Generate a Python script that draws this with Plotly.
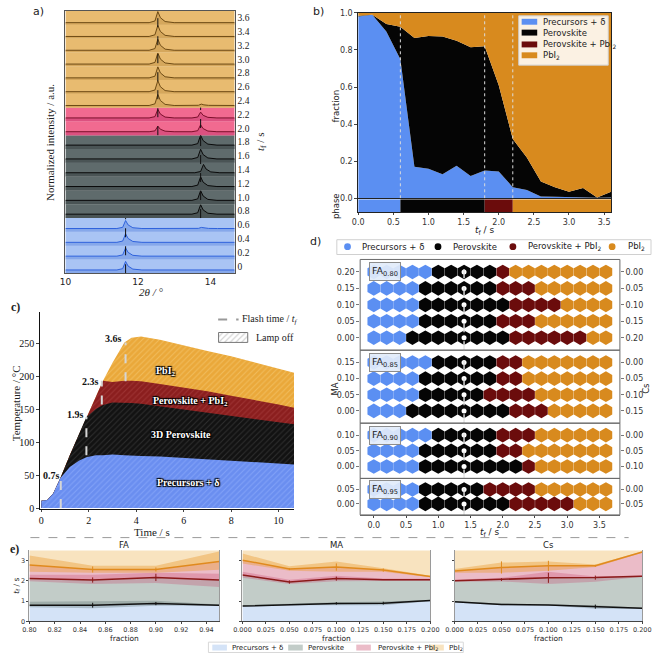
import plotly.graph_objects as go

W, H = 661, 658
SANS = "DejaVu Sans"
SERIF = "Liberation Serif"

# ======================= DATA =======================
phase_names = ["Precursors + δ", "Perovskite", "Perovskite + PbI<sub>2</sub>", "PbI<sub>2</sub>"]
phase_colors = ["#5b8ff2", "#050505", "#6b0c0c", "#d88a1e"]

tf_grid = [0.0, 0.2, 0.4, 0.6, 0.8, 1.0, 1.2, 1.4, 1.6, 1.8, 2.0, 2.2, 2.4, 2.6, 2.8, 3.0, 3.2, 3.4, 3.6]

# ---- panel a (XRD strips, bottom to top) ----
a_tf_labels = ["0", "0.2", "0.4", "0.6", "0.8", "1.0", "1.2", "1.4", "1.6", "1.8",
               "2.0", "2.2", "2.4", "2.6", "2.8", "3.0", "3.2", "3.4", "3.6"]
a_phase = [0, 0, 0, 0, 1, 1, 1, 1, 1, 1, 2, 2, 3, 3, 3, 3, 3, 3, 3]
a_delta_pos = 11.66
a_pbi2_pos = 12.55
a_delta_h = [0.62, 0.60, 0.62, 0.58, 0, 0, 0, 0, 0, 0, 0, 0, 0, 0, 0, 0, 0, 0, 0]
a_pbi2_h = [0, 0, 0, 0, 0, 0, 0, 0, 0, 0, 0.40, 0.62, 0.80, 0.80, 0.80, 0.80, 0.80, 0.80, 0.80]
a_perov_pos = [13.73, 13.73, 13.73, 13.75, 13.73, 13.73, 13.73, 13.81, 13.73, 13.73,
               13.73, 13.73, 13.75, 13.75, 13.75, 13.75, 13.75, 13.75, 13.75]
a_perov_h = [0, 0, 0, 0.08, 0.68, 0.70, 0.70, 0.60, 0.70, 0.72,
             0.50, 0.42, 0.10, 0.05, 0.05, 0.04, 0.04, 0.03, 0.03]

# ---- panel b (phase fractions) ----
b_prec = [0.98, 0.99, 0.90, 0.75, 0.17, 0.16, 0.13, 0.175, 0.12, 0.15, 0.145, 0.06, 0.045, 0.01, 0.008, 0.005, 0.006, 0.003, 0.005]
b_perov = [0.005, 0.0, 0.04, 0.175, 0.695, 0.715, 0.743, 0.675, 0.695, 0.67, 0.465, 0.26, 0.175, 0.08, 0.052, 0.03, 0.049, 0.002, 0.03]
b_mix = [0.0] * 19
b_pbi2 = [0.015, 0.01, 0.06, 0.075, 0.135, 0.125, 0.127, 0.15, 0.185, 0.18, 0.39, 0.68, 0.78, 0.91, 0.94, 0.965, 0.945, 0.995, 0.965]
b_phase_start = [0.0, 0.6, 1.8, 2.2]
b_phase_end = [0.6, 1.8, 2.2, 3.6]

# ---- panel c (temperature profile) ----
c_time = [0, 0.25, 0.5, 0.8, 1.2, 1.6, 1.9, 2.3, 2.6, 3.0, 3.5, 3.8, 4.2, 5, 6, 7, 8, 9, 10, 10.65]
c_total = [11, 12, 22, 45, 80, 113, 138, 170, 193, 220, 251, 258, 260, 255, 246, 238, 230, 221, 211, 205]
c_mix_top = [11, 12, 22, 45, 80, 113, 138, 170, 193, 191, 193, 193, 192, 188, 183, 177, 170, 164, 157, 152]
c_perov_top = [11, 12, 22, 45, 80, 113, 138, 150, 156, 160, 160, 159, 158, 154, 149, 144, 139, 134, 130, 127]
c_prec_top = [11, 12, 22, 45, 62, 72, 77, 80, 80, 81, 80, 80, 79, 78, 76, 74, 72, 70, 68, 66]
c_flash_t = [0.82, 1.9, 2.55, 3.55]
c_flash_lo = [0, 80, 157, 192]
c_flash_hi = [45, 138, 193, 251]
c_flash_labels = ["0.7s", "1.9s", "2.3s", "3.6s"]

# ---- panel d (phase maps) ----
d_fa_labels = ["0.80", "0.85", "0.90", "0.95"]
d_ma_rows = [[0.20, 0.15, 0.10, 0.05, 0.00], [0.15, 0.10, 0.05, 0.00], [0.10, 0.05, 0.00], [0.05, 0.00]]
d_cs_rows = [["0.00", "0.05", "0.10", "0.15", "0.20"], ["0.00", "0.05", "0.10", "0.15"], ["0.00", "0.05", "0.10"], ["0.00", "0.05"]]
# number of consecutive t_f columns in each phase (prec, perov, perov+PbI2, PbI2)
d_counts = [[(5, 5, 1, 8), (4, 6, 3, 6), (4, 7, 4, 4), (4, 6, 3, 6), (3, 8, 6, 2)],
            [(5, 5, 2, 7), (4, 6, 2, 7), (4, 5, 4, 6), (3, 8, 3, 5)],
            [(5, 5, 3, 6), (4, 6, 2, 7), (4, 8, 1, 6)],
            [(4, 5, 4, 6), (4, 7, 5, 3)]]
d_mark_t = 1.4

# ---- panel e (transition times) ----
e_tmax = 3.6
fa_x = [0.80, 0.85, 0.90, 0.95]
fa_perov = [0.80, 0.80, 0.88, 0.80]
fa_perov_err = [0, 0.12, 0.08, 0]
fa_perov_lo = [0.70, 0.65, 0.77, 0.77]
fa_perov_hi = [0.97, 1.00, 1.02, 0.84]
fa_mix = [2.12, 2.04, 2.17, 2.04]
fa_mix_err = [0, 0.13, 0.18, 0]
fa_mix_lo = [1.98, 1.85, 1.90, 1.70]
fa_mix_hi = [2.30, 2.30, 2.40, 2.35]
fa_pbi2 = [2.78, 2.56, 2.56, 2.95]
fa_pbi2_err = [0, 0.15, 0.10, 0]
fa_pbi2_lo = [2.45, 2.40, 2.40, 2.55]
fa_pbi2_hi = [3.25, 2.75, 2.75, 3.45]

ma_x = [0.0, 0.05, 0.10, 0.15, 0.20]
ma_perov = [0.76, 0.84, 0.89, 0.90, 1.03]
ma_perov_err = [0, 0, 0.06, 0.07, 0]
ma_perov_lo = [0.72, 0.80, 0.80, 0.80, 1.00]
ma_perov_hi = [0.80, 0.88, 0.95, 0.98, 1.06]
ma_mix = [2.29, 1.94, 2.11, 2.05, 2.05]
ma_mix_err = [0, 0.08, 0.10, 0, 0]
ma_mix_lo = [2.15, 1.85, 1.98, 2.00, 2.00]
ma_mix_hi = [2.45, 2.05, 2.25, 2.12, 2.10]
ma_pbi2 = [3.02, 2.58, 2.68, 2.53, 2.21]
ma_pbi2_err = [0, 0.05, 0.18, 0.08, 0]
ma_pbi2_lo = [2.85, 2.50, 2.45, 2.45, 2.18]
ma_pbi2_hi = [3.35, 2.72, 2.95, 2.62, 2.25]

cs_x = [0.0, 0.05, 0.10, 0.15, 0.20]
cs_perov = [0.97, 0.84, 0.81, 0.73, 0.65]
cs_perov_err = [0, 0, 0, 0.10, 0]
cs_perov_lo = [0.93, 0.80, 0.78, 0.62, 0.62]
cs_perov_hi = [1.00, 0.88, 0.84, 0.80, 0.67]
cs_mix = [2.00, 2.06, 2.15, 2.16, 2.23]
cs_mix_err = [0, 0.07, 0.25, 0.10, 0]
cs_mix_lo = [1.95, 1.97, 1.85, 1.95, 2.20]
cs_mix_hi = [2.05, 2.15, 2.45, 2.22, 2.26]
cs_pbi2 = [2.48, 2.66, 2.74, 2.74, 3.42]
cs_pbi2_err = [0, 0.30, 0.25, 0.05, 0]
cs_pbi2_lo = [2.40, 2.40, 2.50, 2.68, 3.38]
cs_pbi2_hi = [2.58, 2.90, 2.95, 2.80, 3.45]


# ======================= HELPERS =======================
def xd(a, b):
    return [a / W, b / W]


def yd(top, bot):
    return [1 - bot / H, 1 - top / H]


def PX(x):
    return x / W


def PY(y):
    return 1 - y / H


annotations = []
shapes = []


def note(x, y, text, size=9, family=SANS, color="#222", xanchor="center", yanchor="middle",
         angle=0, xref="paper", yref="paper", **kw):
    if xref == "paper":
        x = PX(x)
    if yref == "paper":
        y = PY(y)
    annotations.append(dict(x=x, y=y, xref=xref, yref=yref, text=text, showarrow=False,
                            font=dict(family=family, size=size, color=color, **kw.pop("fontkw", {})),
                            xanchor=xanchor, yanchor=yanchor, textangle=angle, **kw))


fig = go.Figure()

# ======================= PANEL a =======================
A_X0, A_X1 = 10.0, 14.67
a_strip_bg = ["#a9c4f4", "#5f6b6c", "#f16a90", "#e8bb70"]
a_fill = ["#86a8ea", "#4a5455", "#dc5180", "#d5a75c"]
a_line = ["#2f62dc", "#0a0a0a", "#7a0f2a", "#6d4a14"]
a_base = [0.24, 0.28, 0.25, 0.15]
PEAK_DX = [-0.24, -0.08, 0.0, 0.07, 0.2, 0.45]
PEAK_DY = [0.0, 0.15, 1.0, 0.45, 0.1, 0.0]

for i in range(len(a_tf_labels)):
    ph = a_phase[i]
    shapes.append(dict(type="rect", xref="x", yref="y", x0=A_X0, x1=A_X1, y0=i, y1=i + 1,
                       fillcolor=a_strip_bg[ph], line=dict(width=0), layer="below"))
    b = i + a_base[ph]
    peaks = sorted([(p, h) for p, h in ((a_delta_pos, a_delta_h[i]), (a_pbi2_pos, a_pbi2_h[i]),
                                         (a_perov_pos[i], a_perov_h[i])) if h > 0])
    xs, ys = [A_X0], [b]
    for p, h in peaks:
        for ddx, ddy in zip(PEAK_DX, PEAK_DY):
            xs.append(p + ddx)
            ys.append(b + ddy * h)
    xs.append(A_X1)
    ys.append(b)
    fig.add_trace(go.Scatter(x=xs + [A_X1, A_X0], y=ys + [i, i], fill="toself", fillcolor=a_fill[ph],
                             mode="lines", line=dict(width=0), xaxis="x", yaxis="y",
                             hoverinfo="skip", showlegend=False))
    fig.add_trace(go.Scatter(x=xs, y=ys, mode="lines", line=dict(color=a_line[ph], width=1),
                             xaxis="x", yaxis="y", hoverinfo="skip", showlegend=False))

for xpos, y0, y1 in ((a_delta_pos, 0, 4), (a_perov_pos[4], 4, 12), (a_pbi2_pos, 10, 19)):
    shapes.append(dict(type="line", xref="x", yref="y", x0=xpos, x1=xpos, y0=y0, y1=y1,
                       line=dict(color="#111", width=1, dash="dash")))

note(30, 8, "a)", size=11)
note(42, 140, "Normalized intensity / a.u.", size=11, family=SERIF, angle=-90)
note(259, 140, "<i>t</i><sub>f</sub> / s", size=11, family=SERIF, angle=-90)
note(146, 292, "<i>2θ / °</i>", size=11, family=SERIF)

# ======================= PANEL b =======================
for k, fr in enumerate([b_prec, b_perov, b_mix, b_pbi2]):
    fig.add_trace(go.Scatter(x=tf_grid, y=fr, stackgroup="b", mode="lines", line=dict(width=0),
                             fillcolor=phase_colors[k], xaxis="x2", yaxis="y2",
                             hoverinfo="skip", showlegend=False))
for t in b_phase_start[1:]:
    shapes.append(dict(type="line", xref="x2", yref="y2", x0=t, x1=t, y0=0, y1=1,
                       line=dict(color="#dcdcdc", width=1, dash="dot")))
fig.add_trace(go.Bar(x=[e - s for s, e in zip(b_phase_start, b_phase_end)], base=b_phase_start,
                     y=[0.5] * 4, orientation="h", width=1, marker=dict(color=phase_colors, line=dict(width=0)),
                     xaxis="x3", yaxis="y3", hoverinfo="skip", showlegend=False))

# legend b
shapes.append(dict(type="rect", xref="paper", yref="paper", x0=PX(524), x1=PX(616), y0=PY(62), y1=PY(12),
                   fillcolor="rgba(255,255,255,0.88)", line=dict(color="#cfcfcf", width=1)))
for k, yy in enumerate([18, 29, 41, 52]):
    shapes.append(dict(type="rect", xref="paper", yref="paper", x0=PX(527), x1=PX(543),
                       y0=PY(yy + 3), y1=PY(yy - 3), fillcolor=phase_colors[k], line=dict(width=0)))
    note(547, yy, phase_names[k], size=8.5, xanchor="left")

note(318, 8, "b)", size=11)
note(336, 103, "fraction", size=8.5, angle=-90)
note(336, 205, "phase", size=8.5, angle=-90)
note(489, 230, "<i>t</i><sub>f</sub> / s", size=9)

# ======================= PANEL c =======================
c_colors = ["#eaa83a", "#8b1e1e", "#121212", "#6a8ef0"]
c_fg = ["#f7cf7e", "#b14848", "#4a4a4a", "#9ab6ff"]
for k, top in enumerate([c_total, c_mix_top, c_perov_top, c_prec_top]):
    fig.add_trace(go.Scatter(x=c_time, y=top, fill="tozeroy", mode="lines", line=dict(width=0),
                             fillcolor=c_colors[k],
                             fillpattern=dict(shape="/", bgcolor=c_colors[k], fgcolor=c_fg[k], size=4, solidity=0.25),
                             xaxis="x4", yaxis="y4", hoverinfo="skip", showlegend=False))
for t, lo, hi in zip(c_flash_t, c_flash_lo, c_flash_hi):
    fig.add_trace(go.Scatter(x=[t, t], y=[lo, hi], mode="lines",
                             line=dict(color="#d6d6d6", width=2, dash="dash"),
                             xaxis="x4", yaxis="y4", hoverinfo="skip", showlegend=False))
for lab, (lx, ly) in zip(c_flash_labels, [(0.42, 49), (1.44, 141), (2.09, 192), (3.05, 257)]):
    note(lx, ly, "<b>" + lab + "</b>", size=10, family=SERIF, color="#111", xref="x4", yref="y4")

shadow = "1px 1px 1px #000, -1px -1px 1px #000, 1px -1px 1px #000, -1px 1px 1px #000"
for txt, (lx, ly) in zip(["PbI<sub>2</sub>", "Perovskite + PbI<sub>2</sub>", "3D Perovskite", "Precursors + δ"],
                         [(5.25, 207), (6.3, 162), (5.9, 112), (6.2, 39)]):
    note(lx, ly, "<b>" + txt + "</b>", size=10, family=SERIF, color="white", xref="x4", yref="y4",
         fontkw=dict(shadow=shadow))

# legend c
shapes.append(dict(type="line", xref="paper", yref="paper", x0=PX(215), x1=PX(236), y0=PY(320), y1=PY(320),
                   line=dict(color="#999", width=2, dash="dash")))
note(237, 320, "Flash time / <i>t<sub>f</sub></i>", size=10, family=SERIF, xanchor="left")
fig.add_trace(go.Scatter(x=[7.47, 8.70, 8.70, 7.47, 7.47], y=[251, 251, 266, 266, 251], fill="toself",
                         fillcolor="white", mode="lines", line=dict(color="#777", width=1),
                         fillpattern=dict(shape="/", bgcolor="white", fgcolor="#aaa", size=4, solidity=0.3),
                         xaxis="x4", yaxis="y4", hoverinfo="skip", showlegend=False))
note(252, 338, "Lamp off", size=10, family=SERIF, xanchor="left")

note(7, 307, "<b>c)</b>", size=12, family=SERIF)
note(8, 405, "Temperature / °C", size=11, family=SERIF, angle=-90)
note(147, 535, "Time / s", size=11, family=SERIF)

# ======================= PANEL d =======================
D_PAD = 0.038
d_domains = [(259, 351), (351, 425), (425, 481), (481, 518)]
for g in range(4):
    ya = "y%d" % (5 + g)
    pts = [([], []) for _ in range(4)]
    for r, ma in enumerate(d_ma_rows[g]):
        col = 0
        for k, n in enumerate(d_counts[g][r]):
            for _ in range(n):
                pts[k][0].append(tf_grid[col])
                pts[k][1].append(ma)
                col += 1
    for k in range(4):
        fig.add_trace(go.Scatter(x=pts[k][0], y=pts[k][1], mode="markers",
                                 marker=dict(symbol="hexagon", size=14.6, color=phase_colors[k], line=dict(width=0)),
                                 xaxis="x5", yaxis=ya, hoverinfo="skip", showlegend=False))
    shapes.append(dict(type="line", xref="x5", yref=ya, x0=d_mark_t, x1=d_mark_t,
                       y0=-D_PAD, y1=max(d_ma_rows[g]) + D_PAD,
                       line=dict(color="rgba(225,225,225,0.95)", width=1.5, dash="dash")))
    fig.add_trace(go.Scatter(x=[d_mark_t] * len(d_ma_rows[g]), y=d_ma_rows[g], mode="markers",
                             marker=dict(size=5, color="white"), xaxis="x5", yaxis=ya,
                             hoverinfo="skip", showlegend=False))
    fig.add_trace(go.Scatter(x=[0], y=[0], mode="markers", marker=dict(opacity=0), xaxis="x5",
                             yaxis="y%d" % (9 + g), hoverinfo="skip", showlegend=False))
    top, bot = d_domains[g]
    shapes.append(dict(type="rect", xref="paper", yref="paper", x0=PX(361), x1=PX(628), y0=PY(bot), y1=PY(top),
                       line=dict(color="#6a6a6a", width=1)))
    note(0.18, max(d_ma_rows[g]), "FA<sub>" + d_fa_labels[g] + "</sub>", size=9.5, xref="x5", yref=ya,
         bgcolor="rgba(226,235,250,0.92)", bordercolor="#8c8c8c", borderwidth=1, borderpad=2)

# legend d
shapes.append(dict(type="rect", xref="paper", yref="paper", x0=PX(337), x1=PX(660), y0=PY(254), y1=PY(239),
                   line=dict(color="#d0d0d0", width=1)))
for k, (cx, tx) in enumerate([(348, 361), (441, 454), (518, 531), (620, 634)]):
    shapes.append(dict(type="circle", xref="paper", yref="paper", x0=PX(cx - 3.5), x1=PX(cx + 3.5),
                       y0=PY(246 + 3.5), y1=PY(246 - 3.5), fillcolor=phase_colors[k], line=dict(width=0)))
    note(tx, 246, phase_names[k], size=8.5, xanchor="left")

note(315, 241, "d)", size=11)
note(335, 390, "MA", size=8.5, angle=-90)
note(655, 390, "Cs", size=8.5, angle=-90)
note(494, 536, "<i>t</i><sub>f</sub> / s", size=9)

# ======================= PANEL e =======================
e_region = ["#d4e3f7", "#c2ccc8", "#ebbcc8", "#f8e3bf"]
e_band = ["rgba(95,115,115,0.35)", "rgba(200,70,110,0.30)", "rgba(235,160,60,0.45)"]
e_line = ["#111111", "#8b1a1a", "#e08a1e"]


def e_panel(xa, ya, xs, lines):
    tops = [lines[0][0], lines[1][0], lines[2][0], [e_tmax] * len(xs)]
    for k, top in enumerate(tops):
        fig.add_trace(go.Scatter(x=xs, y=top, mode="lines", line=dict(width=0),
                                 fill="tozeroy" if k == 0 else "tonexty", fillcolor=e_region[k],
                                 xaxis=xa, yaxis=ya, hoverinfo="skip", showlegend=False))
    for k, (vals, err, lo, hi) in enumerate(lines):
        fig.add_trace(go.Scatter(x=xs, y=lo, mode="lines", line=dict(width=0), xaxis=xa, yaxis=ya,
                                 hoverinfo="skip", showlegend=False))
        fig.add_trace(go.Scatter(x=xs, y=hi, mode="lines", line=dict(width=0), fill="tonexty",
                                 fillcolor=e_band[k], xaxis=xa, yaxis=ya, hoverinfo="skip", showlegend=False))
    for k, (vals, err, lo, hi) in enumerate(lines):
        fig.add_trace(go.Scatter(x=xs, y=vals, mode="lines", line=dict(color=e_line[k], width=1.5),
                                 error_y=dict(type="data", array=err, color=e_line[k], thickness=1, width=0),
                                 xaxis=xa, yaxis=ya, hoverinfo="skip", showlegend=False))


e_panel("x6", "y13", fa_x, [(fa_perov, fa_perov_err, fa_perov_lo, fa_perov_hi),
                            (fa_mix, fa_mix_err, fa_mix_lo, fa_mix_hi),
                            (fa_pbi2, fa_pbi2_err, fa_pbi2_lo, fa_pbi2_hi)])
e_panel("x7", "y14", ma_x, [(ma_perov, ma_perov_err, ma_perov_lo, ma_perov_hi),
                            (ma_mix, ma_mix_err, ma_mix_lo, ma_mix_hi),
                            (ma_pbi2, ma_pbi2_err, ma_pbi2_lo, ma_pbi2_hi)])
e_panel("x8", "y15", cs_x, [(cs_perov, cs_perov_err, cs_perov_lo, cs_perov_hi),
                            (cs_mix, cs_mix_err, cs_mix_lo, cs_mix_hi),
                            (cs_pbi2, cs_pbi2_err, cs_pbi2_lo, cs_pbi2_hi)])

E_TOP, E_BOT = 554, 626
for (x0, x1), title in zip([(21, 216), (240, 433), (458, 651)], ["FA", "MA", "Cs"]):
    note((x0 + x1) / 2, 548, title, size=8.5)
    note((x0 + x1) / 2, 643, "fraction", size=7.5)
note(8, 590, "<i>t</i><sub>f</sub> / s", size=7.5, angle=-90)
note(6, 553, "<b>e)</b>", size=12, family=SERIF)

# legend e
shapes.append(dict(type="rect", xref="paper", yref="paper", x0=PX(205), x1=PX(467), y0=PY(657.5), y1=PY(647),
                   line=dict(color="#d8d8d8", width=1)))
for k, (p0, tx) in enumerate([(209, 227), (287, 305), (357, 377), (432, 450)]):
    shapes.append(dict(type="rect", xref="paper", yref="paper", x0=PX(p0), x1=PX(p0 + 15),
                       y0=PY(655.5), y1=PY(649.5), fillcolor=e_region[k], line=dict(width=0)))
    note(tx, 652.5, phase_names[k], size=7, xanchor="left")

# separator
shapes.append(dict(type="line", xref="paper", yref="paper", x0=PX(22), x1=PX(637), y0=PY(541), y1=PY(541),
                   line=dict(color="#9a9a9a", width=1, dash="dash")))

# ======================= AXES =======================
tick_sans = dict(family=SANS, size=8, color="#333")
base = dict(showgrid=False, zeroline=False, ticks="outside", ticklen=3, tickwidth=1, tickcolor="#444")


def A(**kw):
    d = dict(base)
    d.update(kw)
    return d


layout_axes = dict(
    xaxis=A(domain=xd(58, 232), range=[A_X0, A_X1], anchor="y", tickvals=[10, 12, 14], ticks="",
            tickfont=dict(family=SANS, size=9, color="#222"), showline=True, linecolor="#555", mirror=True),
    yaxis=A(domain=yd(7, 273), range=[0, 19], anchor="x", side="right",
            tickvals=[i + 0.5 for i in range(19)], ticktext=a_tf_labels, ticks="",
            tickfont=dict(family=SERIF, size=9.5, color="#222"), showline=True, linecolor="#555", mirror=True),
    xaxis2=A(domain=xd(359, 619), range=[0, 3.6], anchor="y2", showticklabels=False, ticks="",
             showline=True, linecolor="#222", mirror=True),
    yaxis2=A(domain=yd(9, 197), range=[0, 1], anchor="x2", tickvals=[0, 0.2, 0.4, 0.6, 0.8, 1.0],
             ticktext=["0.0", "0.2", "0.4", "0.6", "0.8", "1.0"], tickfont=tick_sans,
             showline=True, linecolor="#222", mirror=True),
    xaxis3=A(domain=xd(359, 619), range=[0, 3.6], anchor="y3", tickvals=[0, 0.5, 1, 1.5, 2, 2.5, 3, 3.5],
             ticktext=["0.0", "0.5", "1.0", "1.5", "2.0", "2.5", "3.0", "3.5"], tickfont=tick_sans,
             showline=True, linecolor="#222", mirror=True, ticklen=2),
    yaxis3=A(domain=yd(198, 211), range=[0, 1], anchor="x3", showticklabels=False, ticks="",
             showline=True, linecolor="#222", mirror=True),
    xaxis4=A(domain=xd(32, 293), range=[-0.05, 10.65], anchor="y4", tickvals=[0, 2, 4, 6, 8, 10],
             tickfont=dict(family=SERIF, size=10, color="#111"), showline=True, linecolor="#111", ticklen=2),
    yaxis4=A(domain=yd(312, 512), range=[-1.5, 297.5], anchor="x4", tickvals=[0, 50, 100, 150, 200, 250],
             tickfont=dict(family=SERIF, size=10, color="#111"), showline=True, linecolor="#111"),
    xaxis5=A(domain=xd(361, 628), range=[-0.211, 3.817], anchor="y8", tickvals=[0, 0.5, 1, 1.5, 2, 2.5, 3, 3.5],
             ticktext=["0.0", "0.5", "1.0", "1.5", "2.0", "2.5", "3.0", "3.5"], tickfont=tick_sans,
             showline=True, linecolor="#6a6a6a", ticklen=2),
)
for g in range(4):
    top, bot = d_domains[g]
    rng = [-D_PAD, max(d_ma_rows[g]) + D_PAD]
    layout_axes["yaxis%d" % (5 + g)] = A(domain=yd(top, bot), range=rng, anchor="x5",
                                        tickvals=d_ma_rows[g], ticktext=["%.2f" % v for v in d_ma_rows[g]],
                                        tickfont=tick_sans, tickcolor="#777")
    layout_axes["yaxis%d" % (9 + g)] = A(domain=yd(top, bot), range=rng, anchor="x5", overlaying="y%d" % (5 + g),
                                        side="right", tickvals=d_ma_rows[g], ticktext=d_cs_rows[g],
                                        tickfont=tick_sans, tickcolor="#777")

e_tick = dict(family=SANS, size=6.5, color="#333")
for n, (x0, x1), rng, tv, tt in [
    (6, (21, 216), [0.80, 0.95], [0.80, 0.82, 0.84, 0.86, 0.88, 0.90, 0.92, 0.94],
     ["0.80", "0.82", "0.84", "0.86", "0.88", "0.90", "0.92", "0.94"]),
    (7, (240, 433), [0, 0.2], [0, 0.025, 0.05, 0.075, 0.1, 0.125, 0.15, 0.175, 0.2],
     ["0.000", "0.025", "0.050", "0.075", "0.100", "0.125", "0.150", "0.175", "0.200"]),
    (8, (458, 651), [0, 0.2], [0, 0.025, 0.05, 0.075, 0.1, 0.125, 0.15, 0.175, 0.2],
     ["0.000", "0.025", "0.050", "0.075", "0.100", "0.125", "0.150", "0.175", "0.200"])]:
    ynum = n + 7
    layout_axes["xaxis%d" % n] = A(domain=xd(x0, x1), range=rng, anchor="y%d" % ynum, tickvals=tv, ticktext=tt,
                                  tickfont=e_tick, showline=True, linecolor="#444", ticklen=1.5, tickangle=0)
    layout_axes["yaxis%d" % ynum] = A(domain=yd(E_TOP, E_BOT), range=[0, 3.5], anchor="x%d" % n,
                                     tickvals=[0, 1, 2, 3], showticklabels=(n == 6), tickfont=e_tick,
                                     showline=True, linecolor="#9a9a9a", mirror=True, ticklen=2)

fig.update_layout(
    width=W, height=H, margin=dict(l=0, r=0, t=0, b=0),
    paper_bgcolor="white", plot_bgcolor="white", showlegend=False,
    font=dict(family=SANS, size=9, color="#222"),
    annotations=annotations, shapes=shapes, barmode="overlay",
    **layout_axes,
)

fig.write_html("out.html", config={"displayModeBar": False},
               post_script="document.body.style.margin='0px';document.body.style.padding='0px';document.body.style.overflow='hidden';")
